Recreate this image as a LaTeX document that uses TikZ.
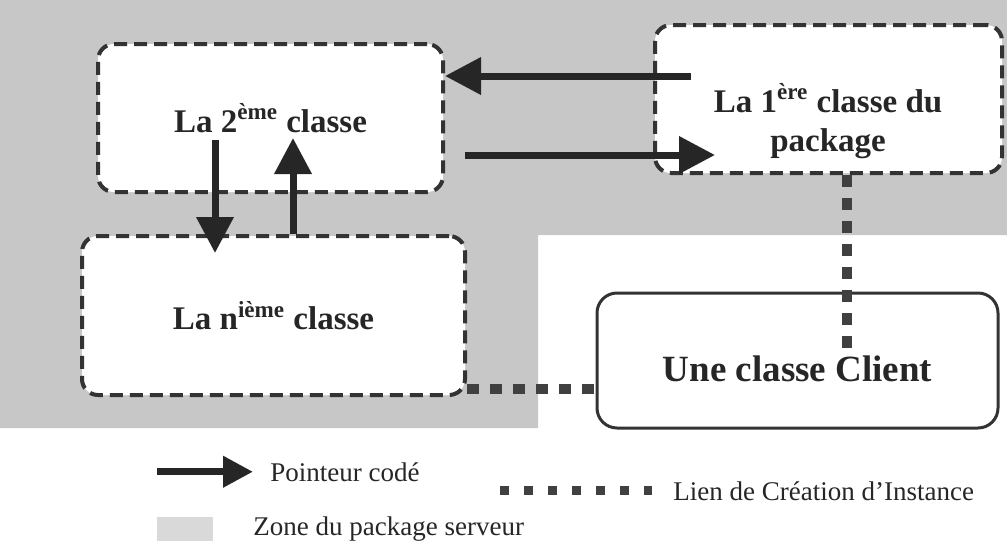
\documentclass[tikz,border=0pt]{standalone}
\usepackage{fontspec}
\setmainfont{Liberation Serif}
\usetikzlibrary{arrows.meta,positioning}

\tikzset{
  classbox/.style={draw=black!80,line width=2pt,dash pattern=on 6.5pt off 3.5pt,rounded corners=8pt,fill=white},
  clientbox/.style={draw=black!80,line width=1.5pt,rounded corners=10pt,fill=white},
  boxtext/.style={font=\bfseries\fontsize{16.5}{19.5}\selectfont,text=black!85,align=center},
  ptr/.style={draw=black!85,line width=3.5pt,-{Triangle[length=18pt,width=18pt]}},
  instlink/.style={draw=black!75,line width=5pt,dash pattern=on 6pt off 5.5pt},
  legtext/.style={font=\fontsize{13.5}{16}\selectfont,text=black!85,anchor=base west,inner sep=0pt}
}

\begin{document}
\begin{tikzpicture}[x=0.5pt,y=-0.5pt]
  \useasboundingbox (0,0) rectangle (1007,547);
  % zone du package serveur
  \fill[black!22] (0,0) -- (1007,0) -- (1007,235) -- (538,235) -- (538,428) -- (0,428) -- cycle;

  \node[classbox,boxtext,minimum width=172.5pt,minimum height=74pt] (cls2) at (270.5,118) {La 2\textsuperscript{ème} classe};
  \node[classbox,minimum width=173.5pt,minimum height=74pt] (cls1) at (828.5,99) {};
  \node[boxtext] (cls1txt) at (828,121) {La 1\textsuperscript{ère} classe du\\package};
  \node[classbox,boxtext,minimum width=191.5pt,minimum height=79.5pt] (clsn) at (273.5,315.5) {La n\textsuperscript{ième} classe};
  \node[clientbox,boxtext,font=\bfseries\fontsize{18.5}{22}\selectfont,text height=21pt,minimum width=200.5pt,minimum height=67.5pt] (client) at (797.5,360.5) {Une classe Client};

  % pointeurs
  \coordinate (ptrA) at ([shift={(38,-23)}]cls1.west);
  \draw[ptr] (ptrA) -- (ptrA -| cls2.east);
  \draw[ptr] ([shift={(20,37)}]cls2.east) -- ++(250,0);
  \draw[ptr] ([shift={(-55.5,22)}]cls2.center) -- ++(0,113);
  \draw[ptr] ([xshift=9.75pt]clsn.north) -- ++(0,-96);

  % creation d'instance
  \draw[instlink] ([xshift=9.25pt]cls1.south) -- ++(0,180);
  \draw[instlink] ([yshift=-36.75pt]clsn.east) -- ([yshift=-36.75pt]clsn.east -| client.west);

  % legende
  \node[legtext] (lgptr) at (270,481) {Pointeur codé};
  \draw[ptr,-{Triangle[length=15pt,width=15pt]}] ([xshift=-56.5pt]lgptr.west) -- ([xshift=-8.5pt]lgptr.west);
  \node[legtext] (lglink) at (673,500) {Lien de Création d'Instance};
  \draw[instlink,line width=4.5pt,dash pattern=on 4.5pt off 7.5pt] ([xshift=-86.5pt]lglink.west) -- ([xshift=-10.5pt]lglink.west);
  \node[legtext] (lgzone) at (253,535) {Zone du package serveur};
  \fill[black!15] ([shift={(-96,-12)}]lgzone.west) rectangle ([shift={(-40,12)}]lgzone.west);
\end{tikzpicture}
\end{document}
